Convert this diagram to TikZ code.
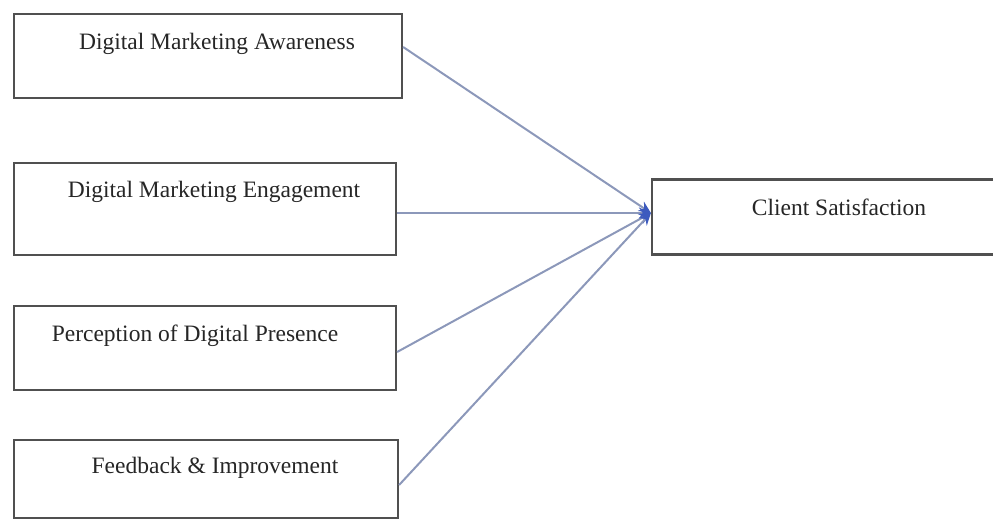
\documentclass[tikz,border=0pt]{standalone}
\usepackage{fontspec}
\setmainfont{Liberation Serif}
\usetikzlibrary{arrows.meta}
\definecolor{boxgray}{RGB}{80,80,80}
\definecolor{linegray}{RGB}{140,152,186}
\definecolor{tipblue}{RGB}{60,90,190}
\begin{document}
\begin{tikzpicture}[x=1pt,y=-1pt,
    box/.style={draw=boxgray,line width=2.2pt,inner sep=0pt,rectangle},
    lbl/.style={anchor=base,inner sep=0pt,font=\fontsize{23.5}{28}\selectfont,text=black!85},
    link/.style={draw=linegray,line width=2pt,-{Stealth[length=12pt,width=11pt,color=tipblue]}}]
    \useasboundingbox (0,0) rectangle (993,519);
    % independent variables
    \node[box,minimum width=388pt,minimum height=84pt] (aware) at (208,56) {};
    \node[box,minimum width=382pt,minimum height=92pt] (engage) at (205,209) {};
    \node[box,minimum width=382pt,minimum height=84pt] (presence) at (205,348) {};
    \node[box,minimum width=384pt,minimum height=78pt] (feedback) at (206,479) {};
    \node[lbl] (awaretext) at (217,50) {Digital Marketing Awareness};
    \node[lbl] (engagetext) at (214,197) {Digital Marketing Engagement};
    \node[lbl] (presencetext) at (195,341) {Perception of Digital Presence};
    \node[lbl] (feedbacktext) at (215,473) {Feedback \& Improvement};
    % dependent variable
    \node[box,minimum width=350pt,minimum height=75pt] (client) at (827,217) {};
    \node[lbl] (clienttext) at (839,215) {Client Satisfaction};
    \coordinate (goal) at ([yshift=4pt]client.west);
    \draw[link] ([yshift=9pt]aware.east) -- (goal);
    \draw[link] ([yshift=-4pt]engage.east) -- (goal);
    \draw[link] ([yshift=-4pt]presence.east) -- (goal);
    \draw[link] ([yshift=-6pt]feedback.east) -- (goal);
\end{tikzpicture}
\end{document}
